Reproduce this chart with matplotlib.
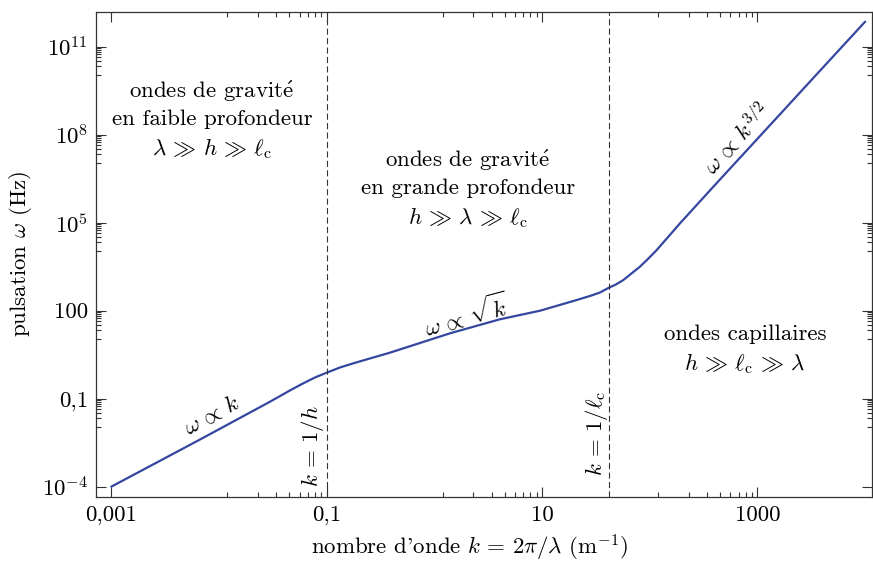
import numpy as np
import matplotlib
matplotlib.use('Agg')
import matplotlib.pyplot as plt
from matplotlib.ticker import FixedLocator, NullFormatter

plt.rcParams['font.family'] = ['cmr10', 'DejaVu Serif']
plt.rcParams['mathtext.fontset'] = 'cm'
plt.rcParams['axes.formatter.use_mathtext'] = True

# points (k in m^-1, omega in Hz)
k_vals = [0.001, 0.00667, 0.0298, 0.0456, 0.0607, 0.0778, 0.1, 0.133, 0.177,
          0.252, 0.387, 1.40, 4.06, 9.57, 19.5, 27.9, 34.5, 41.8, 48.5, 56.8,
          66.8, 81.1, 96.2, 116, 144, 191, 389, 794, 1620, 3180, 10000]
omega_vals = [1e-4, 0.00406, 0.0791, 0.191, 0.335, 0.528, 0.771, 1.16, 1.61,
              2.35, 3.71, 17.0, 50.9, 100, 214, 318, 418, 610, 783, 1110,
              1790, 3170, 5790, 11700, 29000, 95500, 1.68e6, 2.90e7, 4.98e8,
              7.41e9, 7.14e11]

k_limits = [0.1, 41.5]   # k = 1/h and k = 1/l_c

x_major = [0.001, 0.1, 10, 1000]
x_labels = ['0,001', '0,1', '10', '1000']
y_major = [1e-4, 0.1, 100, 1e5, 1e8, 1e11]
y_labels = [r'$10^{-4}$', '0,1', '100', r'$10^{5}$', r'$10^{8}$', r'$10^{11}$']


def linear_minors(majors, step_ratio):
    # 8 evenly spaced ticks between consecutive majors (also one interval past the last)
    ext = list(majors) + [majors[-1] * step_ratio]
    out = []
    for a, b in zip(ext[:-1], ext[1:]):
        out += [a + (b - a) * j / 9 for j in range(1, 9)]
    return out


fig, ax = plt.subplots(figsize=(8.73, 5.65), dpi=100)
fig.subplots_adjust(left=0.1103, right=0.9994, bottom=0.1209, top=0.9793)

ax.set_xscale('log')
ax.set_yscale('log')
ax.set_xlim(7.26e-4, 1.17e4)
ax.set_ylim(10**-4.341, 10**12.195)

ax.plot(k_vals, omega_vals, color='#3446a0', lw=1.6, solid_capstyle='round',
        solid_joinstyle='round')
for kx in k_limits:
    ax.axvline(kx, color='#333333', lw=0.8, ls=(0, (5.5, 3)))

ax.xaxis.set_major_locator(FixedLocator(x_major))
ax.set_xticklabels(x_labels)
ax.yaxis.set_major_locator(FixedLocator(y_major))
ax.set_yticklabels(y_labels)
ax.xaxis.set_minor_locator(FixedLocator(linear_minors(x_major, 100)))
ax.yaxis.set_minor_locator(FixedLocator(linear_minors(y_major, 1000)))
ax.xaxis.set_minor_formatter(NullFormatter())
ax.yaxis.set_minor_formatter(NullFormatter())

ax.tick_params(which='both', direction='in', top=True, right=True,
               labelsize=16.5, color='#333333', width=0.8)
ax.tick_params(which='major', length=7, pad=6)
ax.tick_params(which='minor', length=3.5)
for s in ax.spines.values():
    s.set_linewidth(0.9)
    s.set_color('#333333')

ax.set_xlabel(r"nombre d'onde $k\,=\,2\mathrm{\pi}/\lambda$ (m$^{-1}$)",
              fontsize=16.5, labelpad=6)
ax.xaxis.label.set_x(0.481)
ax.set_ylabel(r'pulsation $\omega$ (Hz)', fontsize=16.5, labelpad=6)

fs = 16.5
e_acute = r'$\mathrm{\acute{e}}$'
ax.text(0.0086, 10**8.5, 'ondes de gravit' + e_acute + '\nen faible profondeur\n'
        r'$\lambda\,\gg\,h\,\gg\,\ell_\mathrm{c}$',
        ha='center', va='center', fontsize=fs, linespacing=1.35)
ax.text(2.05, 10**6.15, 'ondes de gravit' + e_acute + '\nen grande profondeur\n'
        r'$h\,\gg\,\lambda\,\gg\,\ell_\mathrm{c}$',
        ha='center', va='center', fontsize=fs, linespacing=1.35)
ax.text(765, 10**0.66, 'ondes capillaires\n'
        r'$h\,\gg\,\ell_\mathrm{c}\,\gg\,\lambda$',
        ha='center', va='center', fontsize=fs, linespacing=1.35)

ax.text(10**-2.063, 10**-1.556, r'$\omega\,\propto\,k$', rotation=28.3,
        ha='center', va='center', fontsize=fs)
ax.text(10**0.293, 10**1.854, r'$\omega\,\propto\,\sqrt{k}$', rotation=15,
        ha='center', va='center', fontsize=fs)
ax.text(10**2.81, 10**7.889, r'$\omega\,\propto\,k^{3/2}$', rotation=47.4,
        ha='center', va='center', fontsize=fs)

ax.text(10**-1.127, 10**-2.61, r'$k\,=\,1/h$', rotation=90,
        ha='center', va='center', fontsize=fs)
ax.text(10**1.51, 10**-2.17, r'$k\,=\,1/\ell_\mathrm{c}$', rotation=90,
        ha='center', va='center', fontsize=fs)

fig.savefig('out.png', dpi=100)
